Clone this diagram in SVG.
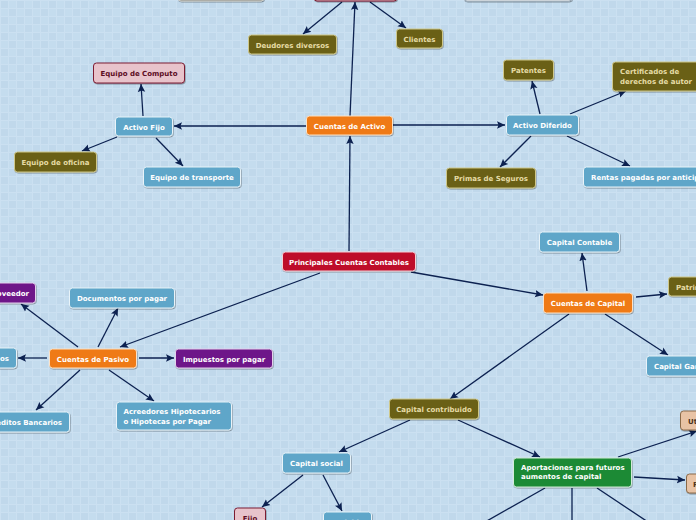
<svg xmlns="http://www.w3.org/2000/svg" width="696" height="520" viewBox="0 0 696 520">
<defs>
<pattern id="grid" width="16" height="16" patternUnits="userSpaceOnUse">
<rect width="16" height="16" fill="#c4dcee"/>
<rect width="8" height="8" fill="#c0d8eb"/>
<rect x="8" y="8" width="8" height="8" fill="#c0d8eb"/>
<path d="M0 0.5H16M0 8.5H16M0.5 0V16M8.5 0V16" stroke="#cbe0f1" stroke-width="1" fill="none"/>
</pattern>
<marker id="arr" markerUnits="userSpaceOnUse" markerWidth="9" markerHeight="9" refX="8" refY="4.5" orient="auto">
<path d="M0,0.8 L8,4.5 L0,8.2 L1.5,4.5 z" fill="#0c2150"/>
</marker>
<filter id="sh" x="-10%" y="-20%" width="120%" height="150%">
<feDropShadow dx="0.6" dy="1" stdDeviation="0.6" flood-color="#000" flood-opacity="0.35"/>
</filter>
</defs>
<style>
.n rect{filter:url(#sh);stroke-width:1}
.blue rect{fill:#5ea6c9;stroke:#e8f3f9}
.orange rect{fill:#ef7a12;stroke:#fbe2c8}
.red rect{fill:#be0d2c;stroke:#f5d0d6}
.olive rect{fill:#6a6116;stroke:#cfc88a}
.pink rect{fill:#e8c3cb;stroke:#7b1d33}
.purple rect{fill:#6e1689;stroke:#e3d0ec}
.green rect{fill:#1b8a35;stroke:#d3ecd9}
.white rect{fill:#ffffff;stroke:#9aa8b4}
.grey rect{fill:#8c8c86;stroke:#cfcfc8}
.tan rect{fill:#e8c3a5;stroke:#8a6a4a}
text{font-family:"DejaVu Sans",Verdana,sans-serif;font-weight:bold;font-size:7px}
.n text{fill:#ffffff}
.olive text{fill:#e6dca6}
.pink text{fill:#5c0b1e}
.tan text{fill:#4a3320}
.c text{text-anchor:middle}
#connectors line{stroke:#0c2150;stroke-width:1.3;fill:none}
#connectors .a{marker-end:url(#arr)}
</style>
<rect width="696" height="520" fill="url(#grid)"/>
<g id="connectors">
<line class="a" x1="350" y1="116" x2="355" y2="2"/>
<line class="a" x1="342" y1="2" x2="303" y2="34"/>
<line class="a" x1="370" y1="2" x2="406" y2="28"/>
<line class="a" x1="349" y1="251" x2="350" y2="136"/>
<line class="a" x1="306" y1="126" x2="174" y2="126"/>
<line class="a" x1="393" y1="125" x2="505" y2="125"/>
<line class="a" x1="143" y1="116" x2="141" y2="84"/>
<line class="a" x1="117" y1="137" x2="82" y2="151"/>
<line class="a" x1="156" y1="138" x2="183" y2="166"/>
<line class="a" x1="540" y1="114" x2="532" y2="81"/>
<line class="a" x1="570" y1="114" x2="626" y2="91"/>
<line class="a" x1="531" y1="136" x2="500" y2="167"/>
<line class="a" x1="567" y1="136" x2="630" y2="166"/>
<line class="a" x1="320" y1="273" x2="120" y2="347"/>
<line class="a" x1="411" y1="272" x2="543" y2="295"/>
<line class="a" x1="98" y1="347" x2="118" y2="308"/>
<line class="a" x1="78" y1="347" x2="21" y2="304"/>
<line class="a" x1="47" y1="358" x2="18" y2="358"/>
<line class="a" x1="139" y1="358" x2="174" y2="358"/>
<line class="a" x1="80" y1="370" x2="36" y2="410"/>
<line class="a" x1="109" y1="370" x2="154" y2="401"/>
<line class="a" x1="587" y1="291" x2="582" y2="253"/>
<line class="a" x1="636" y1="297" x2="667" y2="294"/>
<line class="a" x1="605" y1="314" x2="668" y2="355"/>
<line class="a" x1="569" y1="314" x2="450" y2="399"/>
<line class="a" x1="410" y1="420" x2="339" y2="452"/>
<line class="a" x1="458" y1="420" x2="540" y2="457"/>
<line class="a" x1="303" y1="475" x2="262" y2="507"/>
<line class="a" x1="323" y1="475" x2="342" y2="511"/>
<line x1="545" y1="488" x2="485" y2="522"/>
<line x1="572" y1="488" x2="572" y2="522"/>
<line x1="597" y1="488" x2="648" y2="522"/>
<line class="a" x1="618" y1="457" x2="697" y2="431"/>
<line class="a" x1="634" y1="477" x2="685" y2="480"/>
</g>
<g id="n-top-grey" class="n grey"><rect x="178" y="-20" width="86" height="21" rx="3"/></g>
<g id="n-top-pink" class="n pink"><rect x="314" y="-20" width="83" height="21" rx="3"/></g>
<g id="n-top-white" class="n white"><rect x="464" y="-20" width="108" height="21" rx="3"/></g>
<g id="n-deudores" class="n olive c"><rect x="248.5" y="35" width="88" height="19" rx="3"/><text x="292.5" y="47.5">Deudores diversos</text></g>
<g id="n-clientes" class="n olive c"><rect x="396.5" y="29" width="46" height="19" rx="3"/><text x="419.5" y="41.5">Clientes</text></g>
<g id="n-activo" class="n orange c"><rect x="306.5" y="116" width="86" height="19" rx="3"/><text x="349.5" y="128.5">Cuentas de Activo</text></g>
<g id="n-activofijo" class="n blue c"><rect x="115.5" y="117" width="57" height="19" rx="3"/><text x="144" y="129.5">Activo Fijo</text></g>
<g id="n-computo" class="n pink c"><rect x="93.5" y="63" width="91" height="20" rx="3"/><text x="139" y="76">Equipo de Computo</text></g>
<g id="n-oficina" class="n olive c"><rect x="14.5" y="152" width="82" height="20" rx="3"/><text x="55.5" y="165">Equipo de oficina</text></g>
<g id="n-transporte" class="n blue c"><rect x="143.5" y="167" width="97" height="20" rx="3"/><text x="192" y="180">Equipo de transporte</text></g>
<g id="n-diferido" class="n blue c"><rect x="506.5" y="115" width="72" height="20" rx="3"/><text x="542.5" y="128">Activo Diferido</text></g>
<g id="n-patentes" class="n olive c"><rect x="503.5" y="60" width="50" height="20" rx="3"/><text x="528.5" y="73">Patentes</text></g>
<g id="n-certificados" class="n olive"><rect x="612.5" y="62" width="90" height="29" rx="3"/><text x="620" y="74">Certificados de</text><text x="620" y="84">derechos de autor</text></g>
<g id="n-primas" class="n olive c"><rect x="446.5" y="168" width="89" height="20" rx="3"/><text x="491" y="181">Primas de Seguros</text></g>
<g id="n-rentas" class="n blue"><rect x="583.5" y="167" width="140" height="20" rx="3"/><text x="591" y="180">Rentas pagadas por anticipado</text></g>
<g id="n-principales" class="n red c"><rect x="282.5" y="252" width="133" height="19" rx="3"/><text x="349" y="264.5">Principales Cuentas Contables</text></g>
<g id="n-pasivo" class="n orange c"><rect x="49.5" y="349" width="87" height="19" rx="3"/><text x="93" y="361.5">Cuentas de Pasivo</text></g>
<g id="n-documentos" class="n blue c"><rect x="69.5" y="288" width="105" height="20" rx="3"/><text x="122" y="301">Documentos por pagar</text></g>
<g id="n-proveedor" class="n purple"><rect x="-30" y="283" width="65.5" height="20" rx="3"/><text x="29" y="296" text-anchor="end">Proveedor</text></g>
<g id="n-acreedoresdiv" class="n blue"><rect x="-80" y="348" width="96.5" height="20" rx="3"/><text x="9" y="361" text-anchor="end">Acreedores diversos</text></g>
<g id="n-impuestos" class="n purple c"><rect x="175.5" y="349" width="97" height="19" rx="3"/><text x="224" y="361.5">Impuestos por pagar</text></g>
<g id="n-creditos" class="n blue"><rect x="-30" y="412" width="99.5" height="20" rx="3"/><text x="62" y="425" text-anchor="end">Creditos Bancarios</text></g>
<g id="n-acreedoreship" class="n blue"><rect x="116.5" y="402" width="115" height="28" rx="3"/><text x="123.5" y="414">Acreedores Hipotecarios</text><text x="123.5" y="424">o Hipotecas por Pagar</text></g>
<g id="n-capital" class="n orange c"><rect x="543.5" y="293" width="89" height="20" rx="3"/><text x="588" y="306">Cuentas de Capital</text></g>
<g id="n-contable" class="n blue c"><rect x="539.5" y="232" width="80" height="20" rx="3"/><text x="579.5" y="245">Capital Contable</text></g>
<g id="n-patrimonio" class="n olive"><rect x="668.5" y="277" width="70" height="19" rx="3"/><text x="676" y="289.5">Patrimonio</text></g>
<g id="n-ganado" class="n blue"><rect x="646.5" y="356" width="80" height="20" rx="3"/><text x="654" y="369">Capital Ganado</text></g>
<g id="n-contribuido" class="n olive c"><rect x="389.5" y="399" width="89" height="20" rx="3"/><text x="434" y="412">Capital contribuido</text></g>
<g id="n-social" class="n blue c"><rect x="282.5" y="453" width="68" height="20" rx="3"/><text x="316.5" y="466">Capital social</text></g>
<g id="n-aportaciones" class="n green"><rect x="513.5" y="458" width="118" height="29" rx="3"/><text x="521" y="470">Aportaciones para futuros</text><text x="521" y="479">aumentos de capital</text></g>
<g id="n-fijo" class="n pink c"><rect x="234.5" y="508" width="31" height="20" rx="3"/><text x="250" y="521">Fijo</text></g>
<g id="n-variable" class="n blue c"><rect x="323.5" y="512" width="48" height="20" rx="3"/><text x="347.5" y="525">Variable</text></g>
<g id="n-utilidades" class="n tan"><rect x="680.5" y="411" width="80" height="19" rx="3"/><text x="688" y="423.5">Utilidades</text></g>
<g id="n-reservas" class="n tan"><rect x="686.5" y="474" width="80" height="19" rx="3"/><text x="693" y="486.5">Reservas</text></g>
</svg>
